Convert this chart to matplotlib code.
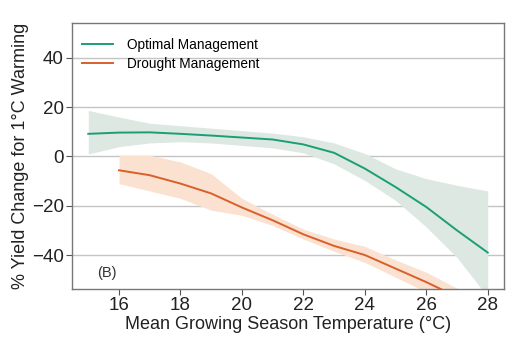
import matplotlib
matplotlib.use("Agg")
import matplotlib.pyplot as plt

plt.rcParams['font.family'] = ['Liberation Sans', 'DejaVu Sans']

# Optimal management
opt_x = [15, 16, 17, 18, 19, 20, 21, 22, 23, 24, 25, 26, 27, 28]
opt_y = [9.2, 9.7, 9.8, 9.2, 8.5, 7.7, 6.9, 4.9, 1.5, -4.9, -12.4, -20.5, -30, -39]
opt_hi = [18.7, 16, 13.5, 12.5, 11.5, 10.5, 9.5, 8, 5.5, 1.2, -5, -9, -11.7, -14]
opt_lo = [1, 4, 5.5, 6, 5.5, 4.5, 3.5, 1.5, -3, -9.7, -17.8, -28.6, -41, -57]

# Drought management
dr_x = [16, 17, 18, 19, 20, 21, 22, 23, 24, 25, 26, 27]
dr_y = [-5.6, -7.6, -11, -15, -20.7, -25.9, -31.6, -36.3, -40, -45.5, -51, -57]
dr_hi = [0.5, 0.5, -2.2, -7, -17, -23.5, -29.5, -33.5, -36.5, -42, -47, -53.5]
dr_lo = [-11, -14, -17, -21.8, -23.9, -28, -33.5, -38.5, -43, -49, -55, -61]

xticks = [16, 18, 20, 22, 24, 26, 28]
yticks = [-40, -20, 0, 20, 40]

green = '#1b9e77'
orange = '#d95f2b'

fig = plt.figure(figsize=(5.28, 3.57), dpi=100)
ax = fig.add_axes([72/528, 1-289/357, (504-72)/528, (289-23)/357])

for y in yticks:
    ax.axhline(y, color='#c4c4c4', lw=1.0, zorder=0)

ax.fill_between(opt_x, opt_lo, opt_hi, color='#dce8e1', lw=0, zorder=1)
ax.fill_between(dr_x, dr_lo, dr_hi, color='#fbe1d0', lw=0, zorder=1)
ax.plot(opt_x, opt_y, color=green, lw=1.4, label='Optimal Management', zorder=3)
ax.plot(dr_x, dr_y, color=orange, lw=1.4, label='Drought Management', zorder=3)

ax.set_xlim(14.47, 28.53)
ax.set_ylim(-53.8, 54.2)
ax.set_xticks(xticks)
ax.set_yticks(yticks)
ax.set_xticklabels([str(v) for v in xticks])
ax.set_yticklabels([str(v).replace('-', '\u2212') for v in yticks])
ax.tick_params(labelsize=13.5, length=4, color='#555555', labelcolor='#222222', pad=2)
for s in ax.spines.values():
    s.set_color('#777777')
    s.set_linewidth(1.0)

ax.set_xlabel('Mean Growing Season Temperature (\u00b0C)', fontsize=13, color='#222222', labelpad=1)
ax.set_ylabel('% Yield Change for 1\u00b0C Warming', fontsize=13, color='#222222', labelpad=2)

ax.text(15.28, -47.3, '(B)', fontsize=10.5, color='#333333', va='center')

leg = ax.legend(loc='upper left', bbox_to_anchor=(0.01, 0.965), frameon=False, fontsize=9.8,
                handlelength=2.3, labelspacing=0.4, borderaxespad=0.0, handletextpad=1.0)

fig.savefig('out.png', dpi=100)
